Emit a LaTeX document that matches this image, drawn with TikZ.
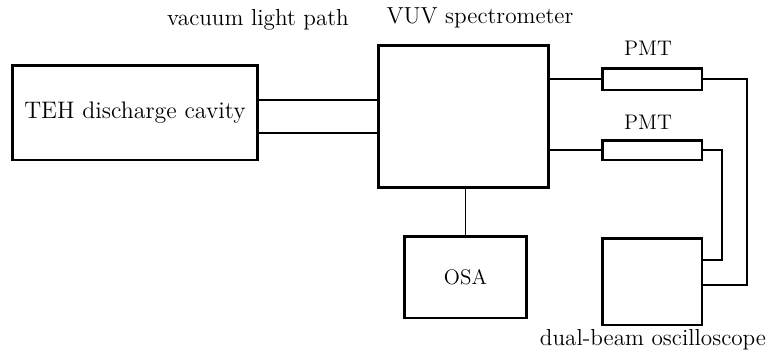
\documentclass[tikz,border=0pt]{standalone}
\usepackage{tikz}

\begin{document}
\begin{tikzpicture}[x=0.02cm, y=-0.02cm,
    unit/.style={draw, rectangle, line width=1.7pt, inner sep=0pt, outer sep=0pt, font=\large},
    link/.style={line width=1.1pt},
    caption/.style={font=\fontsize{13.2}{15}\selectfont}]
            \useasboundingbox (0,0) rectangle (768,356);
            \node [unit, minimum width=4.92cm, minimum height=1.9cm, font=\fontsize{13.6}{16}\selectfont] (cavity) at (135,112.5) {TEH discharge cavity};
            \node [unit, minimum width=3.42cm, minimum height=2.86cm] (spectro) at (463.5,116.5) {};
            \node [unit, minimum width=2cm, minimum height=0.44cm] (pmtA) at (652,79) {};
            \node [unit, minimum width=2cm, minimum height=0.4cm] (pmtB) at (652,150) {};
            \node [unit, minimum width=2.46cm, minimum height=1.64cm] (osa) at (465.5,277) {OSA};
            \node [unit, minimum width=2cm, minimum height=1.74cm] (scope) at (652,281.5) {};

            \node [caption] (pathlabel) at (258,20) {vacuum light path};
            \node [caption] (spectrolabel) at (480,18) {VUV spectrometer};
            \node [font=\large] (pmtAlabel) at (648,48) {PMT};
            \node [font=\large] (pmtBlabel) at (648,122) {PMT};
            \node [caption] (scopelabel) at (653,340) {dual-beam oscilloscope};

            \coordinate (bendA) at (747,285);
            \coordinate (bendB) at (722,260);

            \draw[link] (cavity.east |- 0,100) -- (spectro.west |- 0,100);
            \draw[link] (cavity.east |- 0,133) -- (spectro.west |- 0,133);
            \draw[link] (spectro.east |- pmtA.west) -- (pmtA.west);
            \draw[link] (spectro.east |- pmtB.west) -- (pmtB.west);
            \draw[link] (spectro.south -| osa.north) -- (osa.north);
            \draw[link] (pmtA.east) -| (bendA) -- (scope.east |- bendA);
            \draw[link] (pmtB.east) -| (bendB) -- (scope.east |- bendB);
        \end{tikzpicture}
\end{document}
